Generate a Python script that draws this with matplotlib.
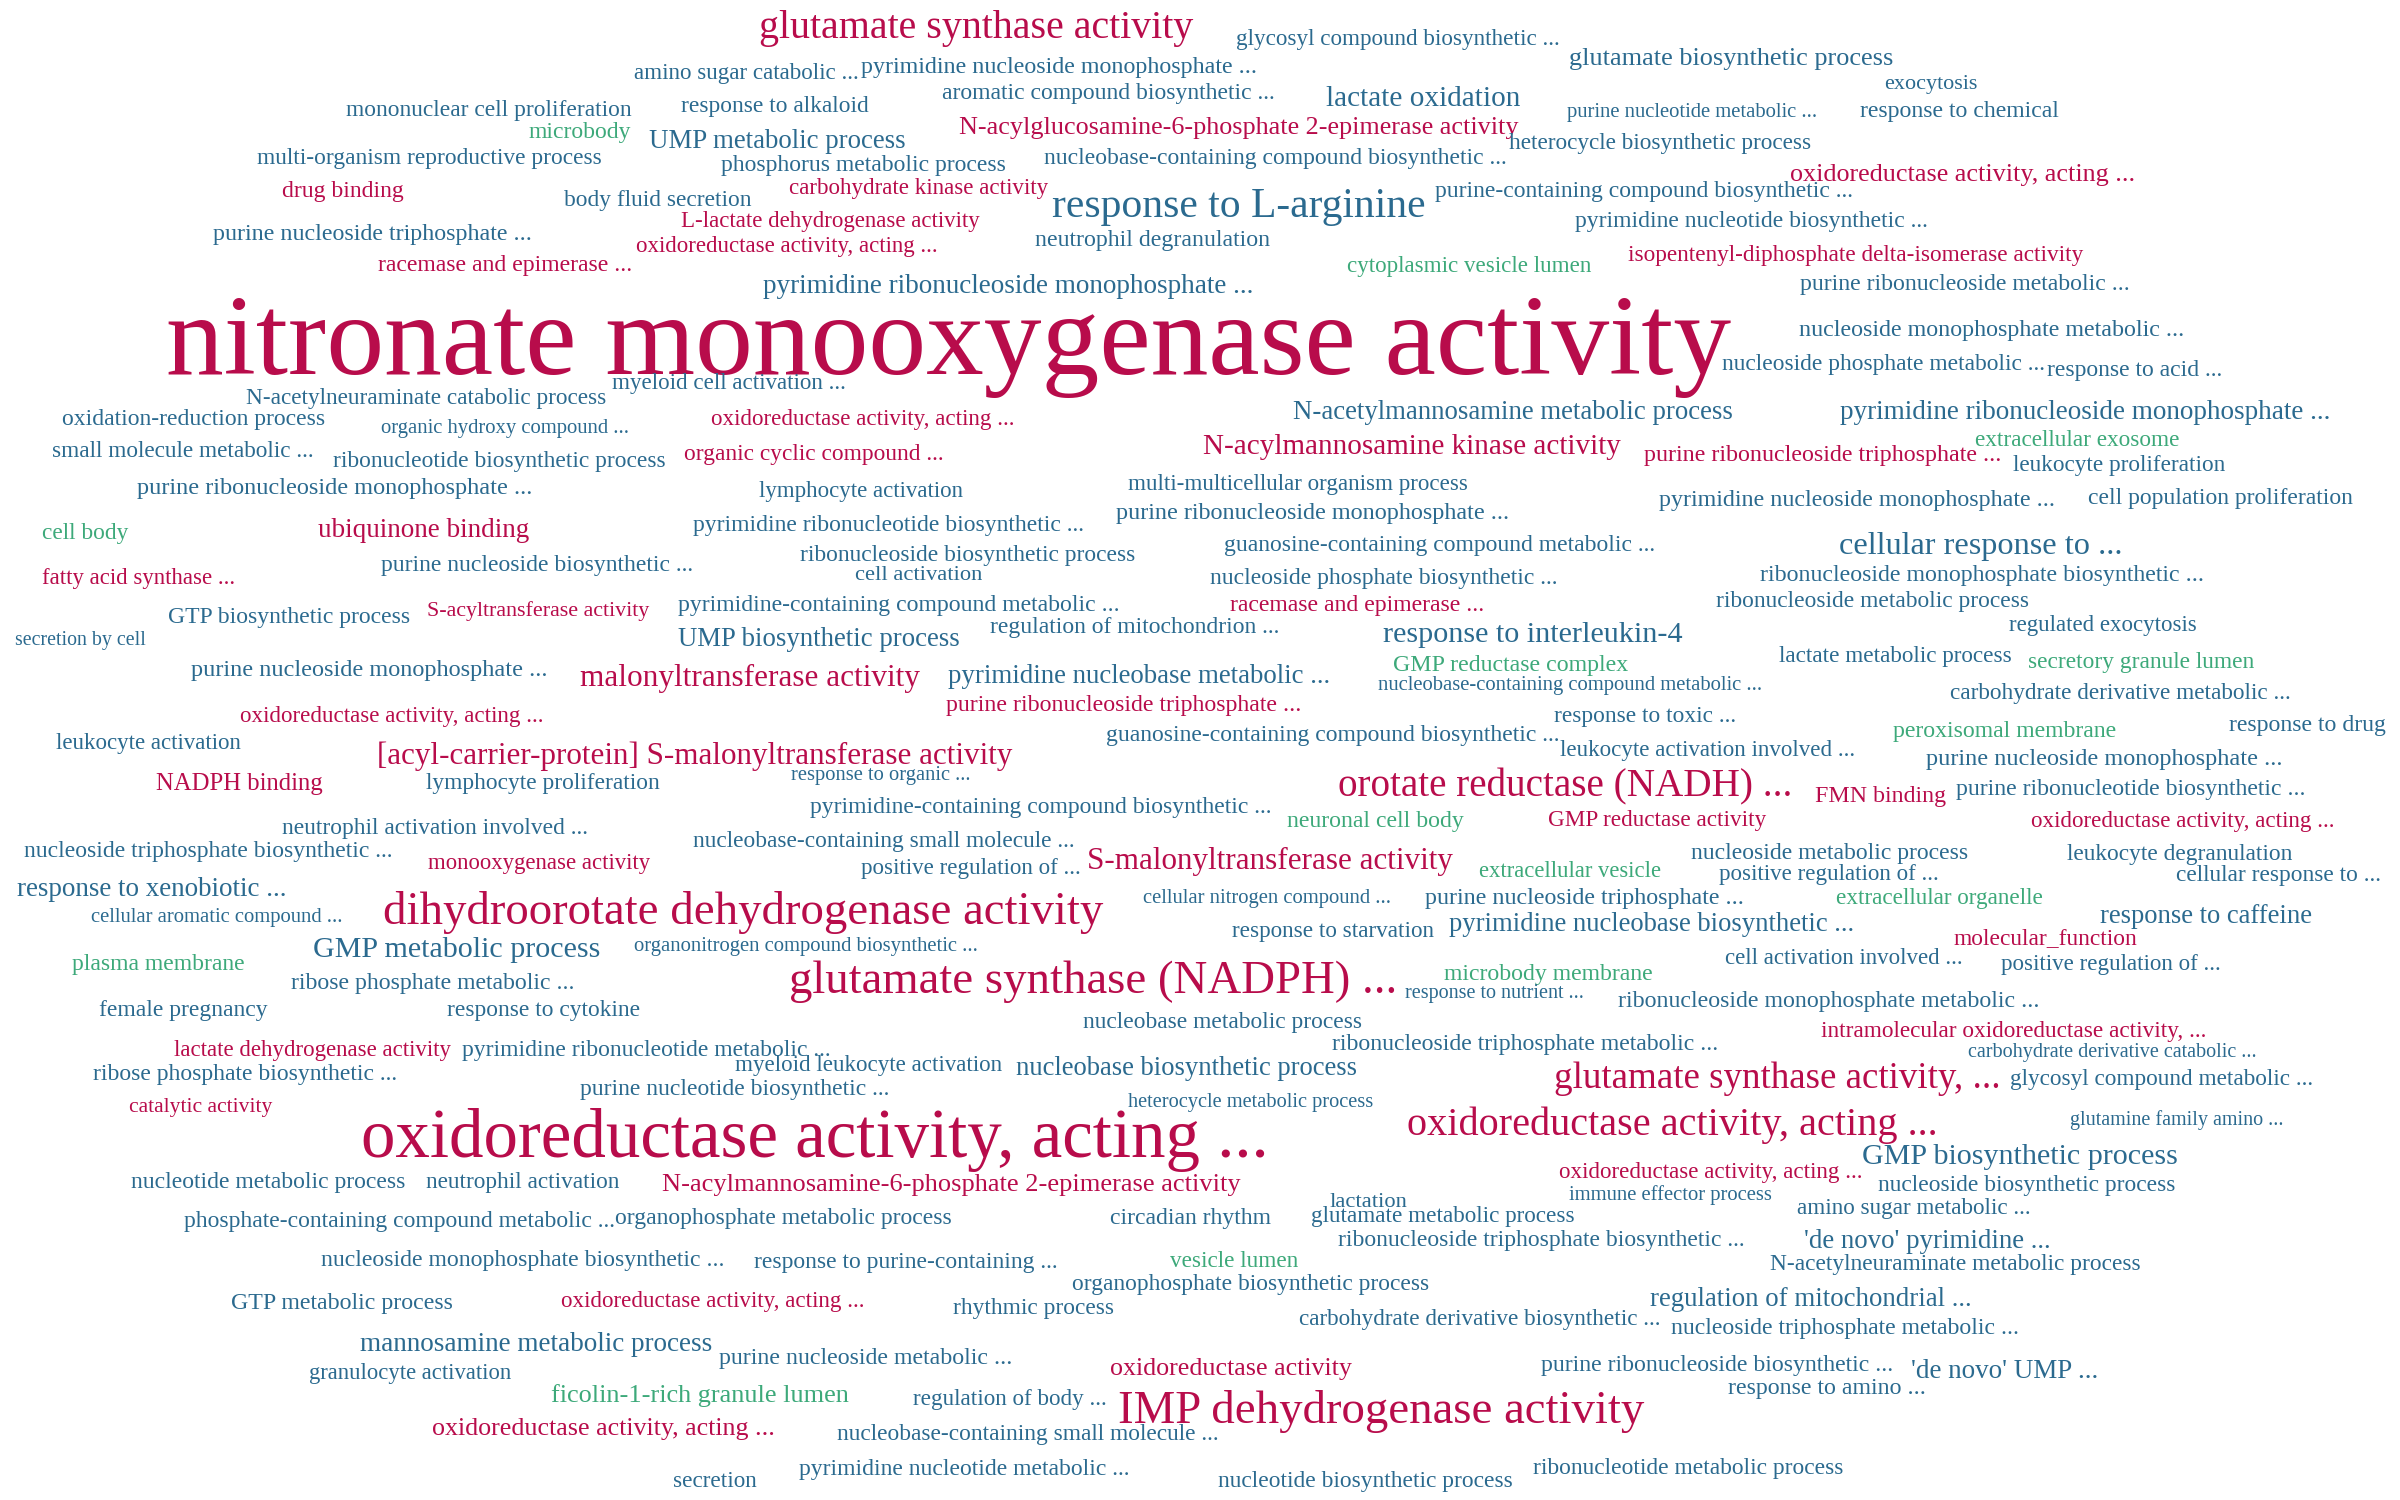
import matplotlib
matplotlib.use("Agg")
import matplotlib.pyplot as plt

# ---------------- data ----------------
terms = [
    "glutamate synthase activity", "glycosyl compound biosynthetic ...", "amino sugar catabolic ...",
    "pyrimidine nucleoside monophosphate ...", "glutamate biosynthetic process", "exocytosis",
    "mononuclear cell proliferation", "response to alkaloid", "aromatic compound biosynthetic ...",
    "lactate oxidation", "purine nucleotide metabolic ...", "response to chemical",
    "microbody", "UMP metabolic process", "N-acylglucosamine-6-phosphate 2-epimerase activity",
    "multi-organism reproductive process", "phosphorus metabolic process",
    "nucleobase-containing compound biosynthetic ...", "heterocycle biosynthetic process",
    "drug binding", "body fluid secretion", "carbohydrate kinase activity",
    "oxidoreductase activity, acting ...", "response to L-arginine",
    "purine-containing compound biosynthetic ...", "L-lactate dehydrogenase activity",
    "purine nucleoside triphosphate ...", "pyrimidine nucleotide biosynthetic ...",
    "oxidoreductase activity, acting ...", "neutrophil degranulation", "racemase and epimerase ...",
    "isopentenyl-diphosphate delta-isomerase activity", "cytoplasmic vesicle lumen",
    "pyrimidine ribonucleoside monophosphate ...", "purine ribonucleoside metabolic ...",
    "nitronate monooxygenase activity", "nucleoside monophosphate metabolic ...",
    "nucleoside phosphate metabolic ...", "response to acid ...", "myeloid cell activation ...",
    "N-acetylneuraminate catabolic process", "N-acetylmannosamine metabolic process",
    "pyrimidine ribonucleoside monophosphate ...", "oxidation-reduction process",
    "organic hydroxy compound ...", "oxidoreductase activity, acting ...", "extracellular exosome",
    "N-acylmannosamine kinase activity", "small molecule metabolic ...",
    "ribonucleotide biosynthetic process", "organic cyclic compound ...",
    "purine ribonucleoside triphosphate ...", "leukocyte proliferation",
    "purine ribonucleoside monophosphate ...", "multi-multicellular organism process",
    "lymphocyte activation", "pyrimidine nucleoside monophosphate ...",
    "cell population proliferation", "purine ribonucleoside monophosphate ...", "cell body",
    "ubiquinone binding", "pyrimidine ribonucleotide biosynthetic ...", "cellular response to ...",
    "guanosine-containing compound metabolic ...", "purine nucleoside biosynthetic ...",
    "ribonucleoside biosynthetic process", "cell activation", "fatty acid synthase ...",
    "nucleoside phosphate biosynthetic ...", "ribonucleoside monophosphate biosynthetic ...",
    "GTP biosynthetic process", "S-acyltransferase activity",
    "pyrimidine-containing compound metabolic ...", "racemase and epimerase ...",
    "ribonucleoside metabolic process", "secretion by cell", "UMP biosynthetic process",
    "regulation of mitochondrion ...", "response to interleukin-4", "regulated exocytosis",
    "purine nucleoside monophosphate ...", "malonyltransferase activity",
    "pyrimidine nucleobase metabolic ...", "GMP reductase complex", "lactate metabolic process",
    "secretory granule lumen", "nucleobase-containing compound metabolic ...",
    "carbohydrate derivative metabolic ...", "oxidoreductase activity, acting ...",
    "purine ribonucleoside triphosphate ...", "response to toxic ...", "peroxisomal membrane",
    "response to drug", "leukocyte activation", "guanosine-containing compound biosynthetic ...",
    "leukocyte activation involved ...", "purine nucleoside monophosphate ...",
    "[acyl-carrier-protein] S-malonyltransferase activity", "response to organic ...",
    "NADPH binding", "lymphocyte proliferation", "orotate reductase (NADH) ...", "FMN binding",
    "purine ribonucleotide biosynthetic ...", "pyrimidine-containing compound biosynthetic ...",
    "neuronal cell body", "GMP reductase activity", "oxidoreductase activity, acting ...",
    "neutrophil activation involved ...", "nucleoside triphosphate biosynthetic ...",
    "monooxygenase activity", "nucleobase-containing small molecule ...",
    "positive regulation of ...", "S-malonyltransferase activity", "extracellular vesicle",
    "nucleoside metabolic process", "positive regulation of ...", "leukocyte degranulation",
    "cellular response to ...", "response to xenobiotic ...", "cellular aromatic compound ...",
    "dihydroorotate dehydrogenase activity", "cellular nitrogen compound ...",
    "purine nucleoside triphosphate ...", "extracellular organelle", "response to caffeine",
    "GMP metabolic process", "organonitrogen compound biosynthetic ...", "response to starvation",
    "pyrimidine nucleobase biosynthetic ...", "molecular_function", "plasma membrane",
    "cell activation involved ...", "positive regulation of ...", "microbody membrane",
    "ribose phosphate metabolic ...", "glutamate synthase (NADPH) ...", "response to nutrient ...",
    "ribonucleoside monophosphate metabolic ...", "female pregnancy", "response to cytokine",
    "nucleobase metabolic process", "intramolecular oxidoreductase activity, ...",
    "lactate dehydrogenase activity", "pyrimidine ribonucleotide metabolic ...",
    "ribonucleoside triphosphate metabolic ...", "carbohydrate derivative catabolic ...",
    "myeloid leukocyte activation", "nucleobase biosynthetic process",
    "ribose phosphate biosynthetic ...", "glutamate synthase activity, ...",
    "glycosyl compound metabolic ...", "purine nucleotide biosynthetic ...", "catalytic activity",
    "heterocycle metabolic process", "oxidoreductase activity, acting ...",
    "oxidoreductase activity, acting ...", "glutamine family amino ...", "GMP biosynthetic process",
    "oxidoreductase activity, acting ...", "nucleoside biosynthetic process",
    "nucleotide metabolic process", "neutrophil activation",
    "N-acylmannosamine-6-phosphate 2-epimerase activity", "immune effector process", "lactation",
    "amino sugar metabolic ...", "glutamate metabolic process", "circadian rhythm",
    "phosphate-containing compound metabolic ...", "organophosphate metabolic process",
    "ribonucleoside triphosphate biosynthetic ...", "'de novo' pyrimidine ...",
    "N-acetylneuraminate metabolic process", "nucleoside monophosphate biosynthetic ...",
    "response to purine-containing ...", "vesicle lumen", "organophosphate biosynthetic process",
    "GTP metabolic process", "oxidoreductase activity, acting ...", "rhythmic process",
    "regulation of mitochondrial ...", "carbohydrate derivative biosynthetic ...",
    "nucleoside triphosphate metabolic ...", "mannosamine metabolic process",
    "purine nucleoside metabolic ...", "granulocyte activation", "oxidoreductase activity",
    "purine ribonucleoside biosynthetic ...", "'de novo' UMP ...", "response to amino ...",
    "ficolin-1-rich granule lumen", "regulation of body ...", "IMP dehydrogenase activity",
    "oxidoreductase activity, acting ...", "nucleobase-containing small molecule ...", "secretion",
    "pyrimidine nucleotide metabolic ...", "nucleotide biosynthetic process",
    "ribonucleotide metabolic process",
]

# GO namespace of each term: MF molecular function, BP biological process, CC cellular component
categories = [
    "MF", "BP", "BP", "BP", "BP", "BP", "BP", "BP", "BP", "BP", "BP", "BP",
    "CC", "BP", "MF", "BP", "BP", "BP", "BP", "MF", "BP", "MF", "MF", "BP",
    "BP", "MF", "BP", "BP", "MF", "BP", "MF", "MF", "CC", "BP", "BP", "MF",
    "BP", "BP", "BP", "BP", "BP", "BP", "BP", "BP", "BP", "MF", "CC", "MF",
    "BP", "BP", "MF", "MF", "BP", "BP", "BP", "BP", "BP", "BP", "BP", "CC",
    "MF", "BP", "BP", "BP", "BP", "BP", "BP", "MF", "BP", "BP", "BP", "MF",
    "BP", "MF", "BP", "BP", "BP", "BP", "BP", "BP", "BP", "MF", "BP", "CC",
    "BP", "CC", "BP", "BP", "MF", "MF", "BP", "CC", "BP", "BP", "BP", "BP",
    "BP", "MF", "BP", "MF", "BP", "MF", "MF", "BP", "BP", "CC", "MF", "MF",
    "BP", "BP", "MF", "BP", "BP", "MF", "CC", "BP", "BP", "BP", "BP", "BP",
    "BP", "MF", "BP", "BP", "CC", "BP", "BP", "BP", "BP", "BP", "MF", "CC",
    "BP", "BP", "CC", "BP", "MF", "BP", "BP", "BP", "BP", "BP", "MF", "MF",
    "BP", "BP", "BP", "BP", "BP", "BP", "MF", "BP", "BP", "MF", "BP", "MF",
    "MF", "BP", "BP", "MF", "BP", "BP", "BP", "MF", "BP", "BP", "BP", "BP",
    "BP", "BP", "BP", "BP", "BP", "BP", "BP", "BP", "CC", "BP", "BP", "MF",
    "BP", "BP", "BP", "BP", "BP", "BP", "BP", "MF", "BP", "BP", "BP", "CC",
    "BP", "MF", "MF", "BP", "BP", "BP", "BP", "BP",
]

# ---------------- layout (reference 1568 x 980 frame): left x, right x, x-height centre y ----
layout = [
    (495.8, 779.6, 17.5), (808, 1019, 24.4), (414, 561, 46.8), (562.6, 821, 42.5),
    (1025, 1237, 37), (1231, 1292, 53.4), (226, 413, 70.8), (445, 568, 68.6),
    (615, 832.7, 59.9), (866, 993, 63.2), (1023.5, 1187, 71.9), (1215, 1345, 71.4),
    (345, 412, 85), (423.8, 592, 91.5), (627, 991.5, 82.3), (168.7, 393, 102.4),
    (470.7, 657, 106.7), (682, 984, 102.4), (986, 1183.5, 92.6), (184.5, 264, 123.7),
    (368.8, 490.7, 129.6), (515.6, 684.6, 122), (1170, 1395, 113), (687.8, 931.5, 134),
    (937, 1211, 124), (445, 640, 143.7), (139, 347.6, 151.8), (1029, 1259.6, 143.7),
    (415.6, 613, 159.6), (676, 829.7, 155.7), (247, 413, 172.5), (1064, 1361, 165.5),
    (880, 1039.5, 173), (498, 819, 186), (1176, 1391.6, 184.7), (108.8, 1131, 224.8),
    (1176, 1427, 214.5), (1125, 1336, 237), (1337, 1452, 240.6), (400, 552.5, 249.4),
    (161, 396, 259), (845, 1131.6, 268.3), (1201.6, 1523, 268.3), (41, 212.5, 272.9),
    (248.8, 411, 278.8), (464.6, 662.5, 272.9), (1290, 1423.6, 286.3), (786.5, 1059, 290.7),
    (33.8, 205, 294), (217.5, 435, 300.5), (447, 616.6, 296), (1074, 1307, 296),
    (1315, 1454, 303), (90, 347.5, 318), (737, 959, 315.6), (495.8, 629, 320),
    (1084, 1343, 326), (1364, 1537, 324.6), (729.5, 986, 334.3), (27.5, 84, 347.4),
    (207.5, 346, 345.2), (452.8, 708, 342), (1202, 1386.8, 356), (799.5, 1081, 355),
    (248.8, 453, 368), (523, 742, 361.5), (559, 641.6, 374.6), (27.5, 153, 376.8),
    (790, 1017.8, 377), (1150, 1439.8, 375), (110, 268, 402.5), (278.8, 424.5, 398),
    (443, 731, 394.6), (803.5, 970, 394), (1121, 1326, 392), (10, 95, 417),
    (443, 626.6, 417), (646.5, 836, 409), (903.6, 1099, 413.8), (1313, 1435.3, 407.7),
    (125, 357.5, 436.6), (378.8, 600.8, 442), (619, 870, 441), (909.8, 1063.6, 433.4),
    (1162, 1314, 428), (1325, 1472.7, 431.6), (899.5, 1151.6, 446.4), (1274, 1496.8, 452),
    (157, 355, 467), (617.8, 850, 459.5), (1015, 1134, 467), (1236.8, 1383, 476.5),
    (1456, 1558.5, 472.5), (37, 157.5, 484.6), (723, 1019, 479), (1019, 1211.8, 489),
    (1258.5, 1490.5, 494.7), (246, 662, 493), (517, 634, 505), (102, 211, 511),
    (278.8, 430.7, 510.7), (874.5, 1171, 513), (1186, 1271.5, 519.4), (1278, 1506, 514.3),
    (529, 831, 526), (841, 956.5, 535.7), (1011.5, 1153.5, 535), (1327, 1524.8, 535.7),
    (184, 384, 540), (15.5, 256, 555), (280, 425, 563), (452.8, 702, 548.8),
    (562.8, 706, 566), (710, 949, 562), (966.5, 1085, 568.4), (1105, 1285.5, 556.4),
    (1123, 1266.5, 570.5), (1350.5, 1497.8, 557), (1421.6, 1555.6, 570.5), (11, 187, 580),
    (59, 224, 598), (251, 720.6, 595), (747, 909, 585.9), (931, 1139, 585.4),
    (1199.6, 1334.8, 586), (1372, 1511, 597.8), (204.5, 392, 619.5), (414, 639, 617),
    (805, 937, 607.6), (946.5, 1211.8, 603), (1276, 1396, 612), (47.5, 160, 629),
    (1127, 1282, 625), (1307.8, 1451, 629), (943, 1079.8, 635.5), (190, 375, 641),
    (515.7, 913, 640), (917.8, 1035, 648), (1057, 1333, 653), (64.5, 174.6, 658.8),
    (292, 418, 658.8), (707.6, 889.8, 666.9), (1189.7, 1441, 672.5), (113.8, 295, 685),
    (302, 543, 685), (870, 1122.8, 681), (1286, 1474, 686), (480, 654.5, 694.7),
    (663.8, 887, 697), (60.8, 259.5, 700.8), (1015, 1307, 704), (1313, 1511, 703.9),
    (378.8, 580.8, 710.4), (84.5, 178.3, 722), (737, 897, 719), (236.3, 829, 744),
    (919.8, 1266, 734), (1352.3, 1492, 730.6), (1217, 1423, 754.6), (1019, 1217, 764.9),
    (1226.8, 1421, 773), (86, 265, 771), (278, 404.5, 771.6), (433, 810, 773),
    (1024.5, 1157.7, 779.6), (868.5, 919, 784), (1174, 1327, 788.4), (856.5, 1029, 793.8),
    (725, 830, 795), (119.5, 402, 797), (402, 622, 795), (874, 1140, 809),
    (1178.5, 1339.8, 810), (1156.4, 1398, 825), (209.5, 474, 822), (492, 691, 823.7),
    (764.5, 848.5, 823), (700, 934, 838), (151, 295.8, 850.5), (366.7, 564.5, 849),
    (623, 728, 853.7), (1077.8, 1288, 848), (849, 1085, 861), (1091.5, 1319, 867),
    (235, 465, 877.5), (470, 661.6, 886), (202, 333.8, 896), (725, 883, 893),
    (1007, 1237, 890.7), (1248.5, 1371, 894.6), (1129, 1258, 906), (360, 554.6, 911),
    (596, 723, 913), (731, 1074, 921), (282.5, 506, 932), (547, 796, 936),
    (439.5, 494, 967), (521.5, 738, 958.5), (795.8, 988, 967), (1001.6, 1204.8, 958),
]

COLORS = {"MF": "#B80C4B", "BP": "#2B6A8F", "CC": "#3DA97A"}
FAMILY = "Liberation Serif"
X_HEIGHT = 0.5           # vertical centring factor (fraction of em) for the chosen font
Y_NUDGE = 1.5            # px

W, H, DPI = 2400, 1500, 100
S = W / 1568.0

fig = plt.figure(figsize=(W / DPI, H / DPI), dpi=DPI)
fig.patch.set_facecolor("white")
ax = fig.add_axes([0, 0, 1, 1])
ax.set_xlim(0, W)
ax.set_ylim(H, 0)
ax.axis("off")
renderer = fig.canvas.get_renderer()

for term, cat, (x0, x1, ym) in zip(terms, categories, layout):
    probe = ax.text(0, 0, term, fontsize=100, family=FAMILY)
    w100 = probe.get_window_extent(renderer).width
    probe.remove()
    target = (x1 - x0) * S
    fs = 100.0 * target / w100
    fs_px = fs * DPI / 72.0
    xc = 0.5 * (x0 + x1) * S
    yb = ym * S + 0.5 * X_HEIGHT * fs_px + Y_NUDGE
    ax.text(xc, yb, term, fontsize=fs, family=FAMILY, color=COLORS[cat],
            ha="center", va="baseline")

fig.savefig("out.png", dpi=DPI, facecolor="white")
